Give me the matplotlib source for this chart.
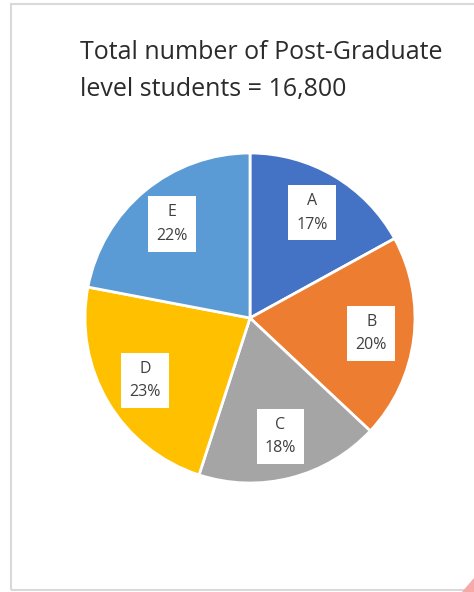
import matplotlib
matplotlib.use("Agg")
import matplotlib.pyplot as plt
import numpy as np
from matplotlib.patches import Rectangle, Polygon

categories = ["A", "B", "C", "D", "E"]
shares = [17, 20, 18, 23, 22]
colors = ["#4472C4", "#ED7D31", "#A5A5A5", "#FFC000", "#5B9BD5"]
title = "Total number of Post-Graduate\nlevel students = 16,800"

W, H = 474, 592
fig = plt.figure(figsize=(W / 100, H / 100), dpi=100)
fig.patch.set_facecolor("white")

# frame
fig.add_artist(Rectangle((11 / W, 2 / H), 1.2, (588 - 2) / H, transform=fig.transFigure,
                         fill=False, edgecolor="#d9d9d9", linewidth=1.5))
# pink corner
fig.add_artist(Polygon([(1, 14 / H), (1, 0), (462 / W, 0)], closed=True,
                       transform=fig.transFigure, facecolor="#f6a9a9", edgecolor="none"))

fig.text(80 / W, 1 - 40 / H, title, ha="left", va="top", fontsize=18,
         family="Open Sans", color="#2b2b2b", linespacing=1.65)

cx, cy, r = 250, 318, 165
ax = fig.add_axes([(cx - r) / W, (H - cy - r) / H, 2 * r / W, 2 * r / H])
wedges, _ = ax.pie(shares, colors=colors, startangle=90, counterclock=False,
                   wedgeprops=dict(edgecolor="white", linewidth=2))
ax.set_xlim(-1, 1)
ax.set_ylim(-1, 1)
ax.set_aspect("auto")

for w, cat, s in zip(wedges, categories, shares):
    ang = np.deg2rad((w.theta1 + w.theta2) / 2)
    d = 0.74
    ax.text(d * np.cos(ang), d * np.sin(ang), f"{cat}\n{s}%", ha="center", va="center",
            fontsize=11.5, family="Open Sans", color="#404040", linespacing=1.6,
            bbox=dict(boxstyle="square,pad=0.5", facecolor="white", edgecolor="none"))

fig.savefig("out.png", dpi=100)
